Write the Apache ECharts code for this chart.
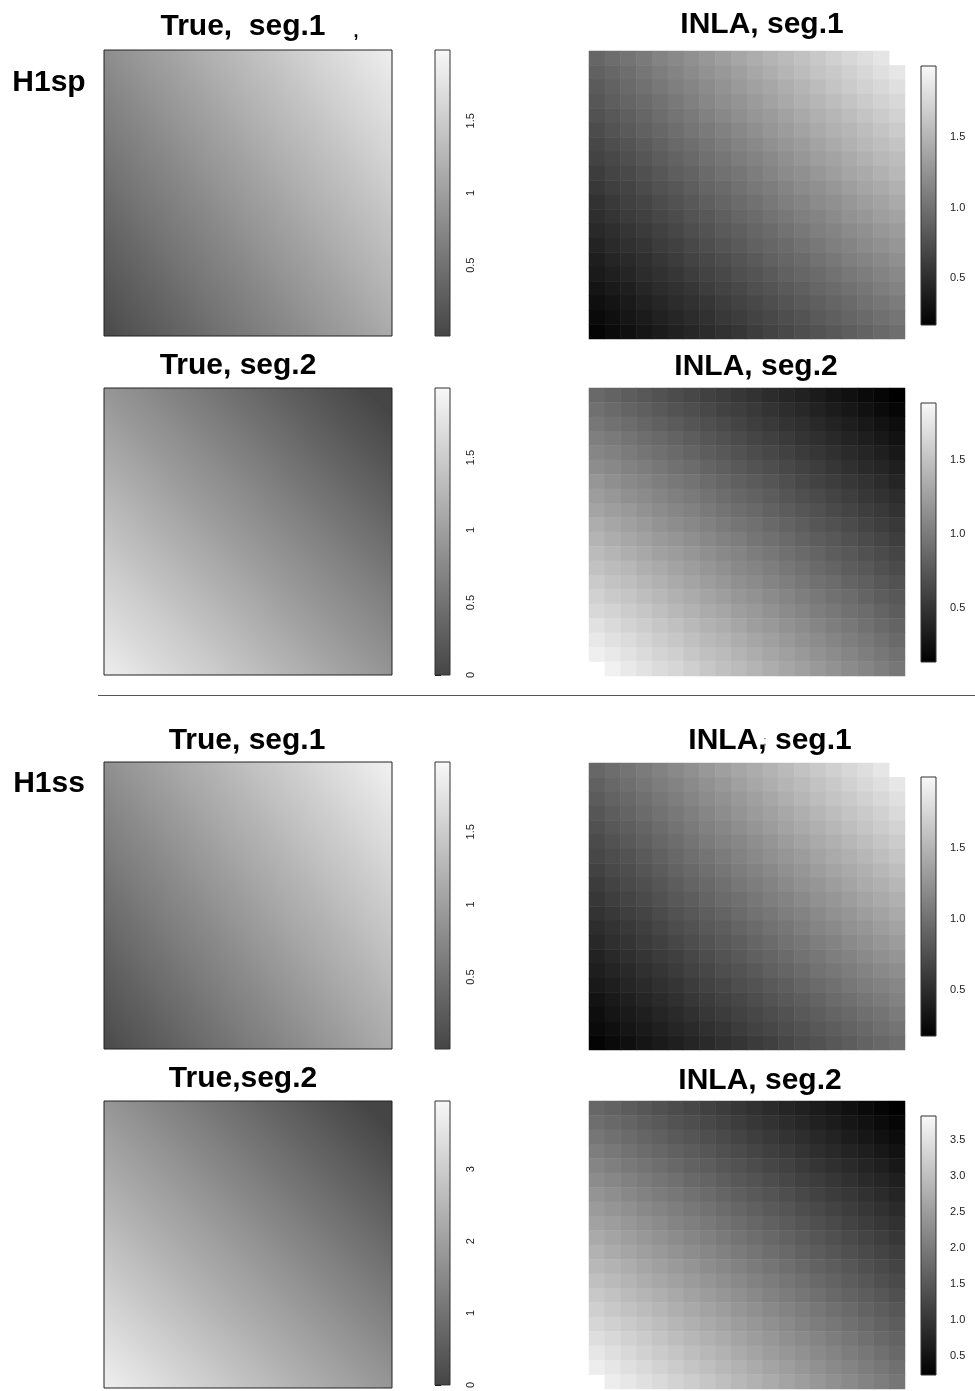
<!DOCTYPE html>
<html><head><meta charset="utf-8">
<script src="https://cdn.jsdelivr.net/npm/echarts@6/dist/echarts.min.js"></script>
<style>html,body{margin:0;padding:0;background:#fff}#c{width:975px;height:1391px}</style>
</head><body><div id="c"></div>
<script>
// ---------------- DATA ----------------
const rowLabels = ['H1sp', 'H1ss'];
const trueTitles = ['True,  seg.1', 'True, seg.2', 'True, seg.1', 'True,seg.2'];
const inlaTitles = ['INLA, seg.1', 'INLA, seg.2', 'INLA, seg.1', 'INLA, seg.2'];

// true surfaces: corner values [bottom-left, bottom-right, top-left, top-right]
const trueH1spSeg1 = [0.09, 1.10, 0.78, 1.92];
const trueH1spSeg2 = [1.97, 0.78, 0.80, 0.01];
const trueH1ssSeg1 = [0.08, 1.10, 0.80, 1.93];
const trueH1ssSeg2 = [3.95, 1.58, 1.58, 0.00];

// colour-bar ranges and ticks
const trueRanges = [[0.01, 1.99], [0, 1.98], [0.005, 1.98], [0, 3.95]];
const trueTicks = [[0.5, 1, 1.5], [0, 0.5, 1, 1.5], [0.5, 1, 1.5], [0, 1, 2, 3]];
const inlaRanges = [[0.17, 2.0], [0.13, 1.89], [0.18, 2.0], [0.24, 3.83]];
const inlaTicks = [[0.5, 1, 1.5], [0.5, 1, 1.5], [0.5, 1, 1.5], [0.5, 1, 1.5, 2, 2.5, 3, 3.5]];

// INLA posterior mean grids (20 x 20), rows listed top to bottom, null = no estimate
const inlaH1spSeg1 = [
[0.92,0.97,1.02,1.07,1.13,1.18,1.23,1.28,1.33,1.39,1.44,1.49,1.54,1.59,1.64,1.70,1.75,1.80,1.85,null],
[0.88,0.93,0.98,1.04,1.09,1.14,1.19,1.24,1.29,1.34,1.40,1.45,1.50,1.55,1.60,1.65,1.70,1.75,1.81,1.86],
[0.84,0.89,0.95,1.00,1.05,1.10,1.15,1.20,1.25,1.30,1.35,1.40,1.45,1.50,1.55,1.61,1.66,1.71,1.76,1.81],
[0.81,0.86,0.91,0.96,1.01,1.06,1.11,1.16,1.21,1.26,1.31,1.36,1.41,1.46,1.51,1.56,1.61,1.66,1.71,1.76],
[0.77,0.82,0.87,0.92,0.97,1.02,1.07,1.12,1.17,1.22,1.27,1.31,1.36,1.41,1.46,1.51,1.56,1.61,1.66,1.71],
[0.73,0.78,0.83,0.88,0.93,0.98,1.03,1.07,1.12,1.17,1.22,1.27,1.32,1.37,1.42,1.47,1.51,1.56,1.61,1.66],
[0.69,0.74,0.79,0.84,0.89,0.94,0.98,1.03,1.08,1.13,1.18,1.23,1.27,1.32,1.37,1.42,1.47,1.52,1.57,1.61],
[0.66,0.70,0.75,0.80,0.85,0.90,0.94,0.99,1.04,1.09,1.13,1.18,1.23,1.28,1.33,1.37,1.42,1.47,1.52,1.56],
[0.62,0.67,0.71,0.76,0.81,0.86,0.90,0.95,1.00,1.04,1.09,1.14,1.19,1.23,1.28,1.33,1.38,1.42,1.47,1.52],
[0.58,0.63,0.67,0.72,0.77,0.81,0.86,0.91,0.95,1.00,1.05,1.09,1.14,1.19,1.23,1.28,1.33,1.38,1.42,1.47],
[0.54,0.59,0.64,0.68,0.73,0.77,0.82,0.87,0.91,0.96,1.00,1.05,1.10,1.14,1.19,1.23,1.28,1.33,1.37,1.42],
[0.51,0.55,0.60,0.64,0.69,0.73,0.78,0.82,0.87,0.92,0.96,1.01,1.05,1.10,1.14,1.19,1.24,1.28,1.33,1.37],
[0.47,0.51,0.56,0.60,0.65,0.69,0.74,0.78,0.83,0.87,0.92,0.96,1.01,1.05,1.10,1.14,1.19,1.23,1.28,1.32],
[0.43,0.48,0.52,0.56,0.61,0.65,0.70,0.74,0.79,0.83,0.88,0.92,0.96,1.01,1.05,1.10,1.14,1.19,1.23,1.27],
[0.39,0.44,0.48,0.52,0.57,0.61,0.66,0.70,0.74,0.79,0.83,0.88,0.92,0.96,1.01,1.05,1.10,1.14,1.18,1.23],
[0.36,0.40,0.44,0.49,0.53,0.57,0.62,0.66,0.70,0.75,0.79,0.83,0.88,0.92,0.96,1.01,1.05,1.09,1.13,1.18],
[0.32,0.36,0.40,0.45,0.49,0.53,0.57,0.62,0.66,0.70,0.75,0.79,0.83,0.87,0.92,0.96,1.00,1.04,1.09,1.13],
[0.28,0.32,0.36,0.41,0.45,0.49,0.53,0.57,0.62,0.66,0.70,0.74,0.79,0.83,0.87,0.91,0.95,1.00,1.04,1.08],
[0.24,0.28,0.33,0.37,0.41,0.45,0.49,0.53,0.58,0.62,0.66,0.70,0.74,0.78,0.83,0.87,0.91,0.95,0.99,1.03],
[0.21,0.25,0.29,0.33,0.37,0.41,0.45,0.49,0.53,0.57,0.62,0.66,0.70,0.74,0.78,0.82,0.86,0.90,0.94,0.98]
];
const inlaH1spSeg2 = [
[0.87,0.83,0.79,0.75,0.71,0.67,0.63,0.59,0.56,0.52,0.48,0.44,0.40,0.36,0.32,0.28,0.24,0.20,0.17,0.13],
[0.92,0.88,0.84,0.80,0.76,0.72,0.68,0.64,0.60,0.57,0.53,0.49,0.45,0.41,0.37,0.33,0.29,0.25,0.21,0.17],
[0.97,0.93,0.89,0.85,0.81,0.77,0.73,0.69,0.65,0.61,0.57,0.53,0.49,0.46,0.42,0.38,0.34,0.30,0.26,0.22],
[1.03,0.99,0.95,0.91,0.87,0.83,0.79,0.74,0.70,0.66,0.62,0.58,0.54,0.50,0.46,0.42,0.38,0.34,0.30,0.26],
[1.08,1.04,1.00,0.96,0.92,0.88,0.84,0.79,0.75,0.71,0.67,0.63,0.59,0.55,0.51,0.47,0.43,0.39,0.35,0.30],
[1.13,1.09,1.05,1.01,0.97,0.93,0.89,0.84,0.80,0.76,0.72,0.68,0.64,0.60,0.56,0.51,0.47,0.43,0.39,0.35],
[1.19,1.14,1.10,1.06,1.02,0.98,0.94,0.89,0.85,0.81,0.77,0.73,0.69,0.64,0.60,0.56,0.52,0.48,0.44,0.39],
[1.24,1.20,1.15,1.11,1.07,1.03,0.99,0.94,0.90,0.86,0.82,0.78,0.73,0.69,0.65,0.61,0.57,0.52,0.48,0.44],
[1.29,1.25,1.21,1.16,1.12,1.08,1.04,0.99,0.95,0.91,0.87,0.82,0.78,0.74,0.70,0.65,0.61,0.57,0.53,0.48],
[1.35,1.30,1.26,1.22,1.17,1.13,1.09,1.04,1.00,0.96,0.92,0.87,0.83,0.79,0.74,0.70,0.66,0.61,0.57,0.53],
[1.40,1.35,1.31,1.27,1.22,1.18,1.14,1.09,1.05,1.01,0.96,0.92,0.88,0.83,0.79,0.75,0.70,0.66,0.62,0.57],
[1.45,1.41,1.36,1.32,1.27,1.23,1.19,1.14,1.10,1.06,1.01,0.97,0.92,0.88,0.84,0.79,0.75,0.70,0.66,0.62],
[1.50,1.46,1.42,1.37,1.33,1.28,1.24,1.19,1.15,1.10,1.06,1.02,0.97,0.93,0.88,0.84,0.79,0.75,0.70,0.66],
[1.56,1.51,1.47,1.42,1.38,1.33,1.29,1.24,1.20,1.15,1.11,1.06,1.02,0.97,0.93,0.89,0.84,0.80,0.75,0.71],
[1.61,1.56,1.52,1.47,1.43,1.38,1.34,1.29,1.25,1.20,1.16,1.11,1.07,1.02,0.98,0.93,0.89,0.84,0.79,0.75],
[1.66,1.62,1.57,1.53,1.48,1.43,1.39,1.34,1.30,1.25,1.21,1.16,1.11,1.07,1.02,0.98,0.93,0.89,0.84,0.79],
[1.72,1.67,1.62,1.58,1.53,1.49,1.44,1.39,1.35,1.30,1.25,1.21,1.16,1.12,1.07,1.02,0.98,0.93,0.88,0.84],
[1.77,1.72,1.68,1.63,1.58,1.54,1.49,1.44,1.40,1.35,1.30,1.26,1.21,1.16,1.12,1.07,1.02,0.98,0.93,0.88],
[1.82,1.78,1.73,1.68,1.63,1.59,1.54,1.49,1.45,1.40,1.35,1.30,1.26,1.21,1.16,1.12,1.07,1.02,0.97,0.93],
[null,1.83,1.78,1.73,1.68,1.64,1.59,1.54,1.49,1.45,1.40,1.35,1.30,1.26,1.21,1.16,1.11,1.07,1.02,0.97]
];
const inlaH1ssSeg1 = [
[0.93,0.98,1.03,1.08,1.13,1.18,1.23,1.29,1.34,1.39,1.44,1.49,1.54,1.60,1.65,1.70,1.75,1.80,1.86,null],
[0.89,0.94,0.99,1.04,1.09,1.14,1.19,1.24,1.29,1.35,1.40,1.45,1.50,1.55,1.60,1.65,1.71,1.76,1.81,1.87],
[0.85,0.90,0.95,1.00,1.05,1.10,1.15,1.20,1.25,1.30,1.35,1.40,1.46,1.51,1.56,1.61,1.66,1.71,1.76,1.82],
[0.81,0.86,0.91,0.96,1.01,1.06,1.11,1.16,1.21,1.26,1.31,1.36,1.41,1.46,1.51,1.56,1.61,1.66,1.71,1.77],
[0.77,0.82,0.87,0.92,0.97,1.02,1.07,1.12,1.17,1.22,1.27,1.32,1.37,1.42,1.47,1.52,1.57,1.62,1.67,1.72],
[0.73,0.78,0.83,0.88,0.93,0.98,1.03,1.08,1.13,1.17,1.22,1.27,1.32,1.37,1.42,1.47,1.52,1.57,1.62,1.67],
[0.70,0.74,0.79,0.84,0.89,0.94,0.99,1.03,1.08,1.13,1.18,1.23,1.28,1.32,1.37,1.42,1.47,1.52,1.57,1.62],
[0.66,0.71,0.75,0.80,0.85,0.90,0.95,0.99,1.04,1.09,1.14,1.18,1.23,1.28,1.33,1.38,1.42,1.47,1.52,1.57],
[0.62,0.67,0.72,0.76,0.81,0.86,0.91,0.95,1.00,1.05,1.09,1.14,1.19,1.24,1.28,1.33,1.38,1.43,1.47,1.52],
[0.58,0.63,0.68,0.72,0.77,0.82,0.86,0.91,0.96,1.00,1.05,1.10,1.14,1.19,1.24,1.28,1.33,1.38,1.42,1.47],
[0.55,0.59,0.64,0.68,0.73,0.78,0.82,0.87,0.91,0.96,1.01,1.05,1.10,1.14,1.19,1.24,1.28,1.33,1.37,1.42],
[0.51,0.55,0.60,0.64,0.69,0.74,0.78,0.83,0.87,0.92,0.96,1.01,1.05,1.10,1.15,1.19,1.24,1.28,1.33,1.37],
[0.47,0.52,0.56,0.61,0.65,0.70,0.74,0.79,0.83,0.87,0.92,0.96,1.01,1.05,1.10,1.14,1.19,1.23,1.28,1.32],
[0.43,0.48,0.52,0.57,0.61,0.65,0.70,0.74,0.79,0.83,0.88,0.92,0.96,1.01,1.05,1.10,1.14,1.19,1.23,1.27],
[0.40,0.44,0.48,0.53,0.57,0.61,0.66,0.70,0.75,0.79,0.83,0.88,0.92,0.96,1.01,1.05,1.09,1.14,1.18,1.22],
[0.36,0.40,0.45,0.49,0.53,0.57,0.62,0.66,0.70,0.75,0.79,0.83,0.87,0.92,0.96,1.00,1.05,1.09,1.13,1.17],
[0.32,0.36,0.41,0.45,0.49,0.53,0.58,0.62,0.66,0.70,0.74,0.79,0.83,0.87,0.91,0.96,1.00,1.04,1.08,1.13],
[0.28,0.33,0.37,0.41,0.45,0.49,0.53,0.58,0.62,0.66,0.70,0.74,0.78,0.83,0.87,0.91,0.95,0.99,1.03,1.08],
[0.25,0.29,0.33,0.37,0.41,0.45,0.49,0.53,0.57,0.62,0.66,0.70,0.74,0.78,0.82,0.86,0.90,0.94,0.99,1.03],
[0.21,0.25,0.29,0.33,0.37,0.41,0.45,0.49,0.53,0.57,0.61,0.65,0.70,0.74,0.78,0.82,0.86,0.90,0.94,0.98]
];
const inlaH1ssSeg2 = [
[1.73,1.65,1.57,1.49,1.41,1.33,1.26,1.18,1.10,1.02,0.94,0.86,0.78,0.71,0.63,0.55,0.47,0.39,0.31,0.23],
[1.83,1.75,1.68,1.60,1.52,1.44,1.36,1.28,1.20,1.12,1.04,0.96,0.88,0.80,0.72,0.64,0.56,0.48,0.40,0.32],
[1.94,1.86,1.78,1.70,1.62,1.54,1.46,1.38,1.30,1.22,1.14,1.06,0.98,0.90,0.82,0.74,0.65,0.57,0.49,0.41],
[2.05,1.97,1.89,1.80,1.72,1.64,1.56,1.48,1.40,1.32,1.24,1.15,1.07,0.99,0.91,0.83,0.75,0.67,0.59,0.50],
[2.16,2.07,1.99,1.91,1.83,1.74,1.66,1.58,1.50,1.42,1.33,1.25,1.17,1.09,1.00,0.92,0.84,0.76,0.68,0.59],
[2.26,2.18,2.10,2.01,1.93,1.85,1.76,1.68,1.60,1.51,1.43,1.35,1.26,1.18,1.10,1.02,0.93,0.85,0.77,0.68],
[2.37,2.29,2.20,2.12,2.03,1.95,1.87,1.78,1.70,1.61,1.53,1.45,1.36,1.28,1.19,1.11,1.03,0.94,0.86,0.77],
[2.48,2.39,2.31,2.22,2.14,2.05,1.97,1.88,1.80,1.71,1.63,1.54,1.46,1.37,1.29,1.20,1.12,1.03,0.95,0.86],
[2.58,2.50,2.41,2.33,2.24,2.15,2.07,1.98,1.90,1.81,1.73,1.64,1.55,1.47,1.38,1.30,1.21,1.12,1.04,0.95],
[2.69,2.60,2.52,2.43,2.34,2.26,2.17,2.08,2.00,1.91,1.82,1.74,1.65,1.56,1.48,1.39,1.30,1.22,1.13,1.04],
[2.80,2.71,2.62,2.53,2.45,2.36,2.27,2.18,2.10,2.01,1.92,1.83,1.75,1.66,1.57,1.48,1.40,1.31,1.22,1.13],
[2.90,2.82,2.73,2.64,2.55,2.46,2.37,2.28,2.20,2.11,2.02,1.93,1.84,1.75,1.66,1.58,1.49,1.40,1.31,1.22],
[3.01,2.92,2.83,2.74,2.65,2.56,2.47,2.39,2.30,2.21,2.12,2.03,1.94,1.85,1.76,1.67,1.58,1.49,1.40,1.31],
[3.12,3.03,2.94,2.85,2.76,2.67,2.58,2.49,2.40,2.31,2.22,2.12,2.03,1.94,1.85,1.76,1.67,1.58,1.49,1.40],
[3.23,3.13,3.04,2.95,2.86,2.77,2.68,2.59,2.50,2.40,2.31,2.22,2.13,2.04,1.95,1.86,1.77,1.67,1.58,1.49],
[3.33,3.24,3.15,3.06,2.96,2.87,2.78,2.69,2.60,2.50,2.41,2.32,2.23,2.13,2.04,1.95,1.86,1.77,1.67,1.58],
[3.44,3.35,3.25,3.16,3.07,2.97,2.88,2.79,2.70,2.60,2.51,2.42,2.32,2.23,2.14,2.04,1.95,1.86,1.76,1.67],
[3.55,3.45,3.36,3.26,3.17,3.08,2.98,2.89,2.80,2.70,2.61,2.51,2.42,2.33,2.23,2.14,2.04,1.95,1.86,1.76],
[3.65,3.56,3.46,3.37,3.27,3.18,3.08,2.99,2.89,2.80,2.70,2.61,2.52,2.42,2.33,2.23,2.14,2.04,1.95,1.85],
[null,3.66,3.57,3.47,3.38,3.28,3.19,3.09,2.99,2.90,2.80,2.71,2.61,2.52,2.42,2.32,2.23,2.13,2.04,1.94]
];

// ---------------- LAYOUT / STYLE ----------------
const trueSurfaces = [trueH1spSeg1, trueH1spSeg2, trueH1ssSeg1, trueH1ssSeg2];
const inlaGrids = [inlaH1spSeg1, inlaH1spSeg2, inlaH1ssSeg1, inlaH1ssSeg2];
const TRUE_COLORS = ['#454545', '#f8f8f8'];
const INLA_COLORS = ['#000000', '#f9f9f9'];
const FONT = '"Liberation Sans", Arial, Helvetica, sans-serif';

const trueBox = [[104, 50, 288, 286], [104, 388, 288, 287], [104, 762, 288, 287], [104, 1101, 288, 287]];
const inlaBox = [[589, 51, 316, 288], [589, 388, 316, 288], [589, 763, 316, 287], [589, 1101, 316, 288]];
const inlaBarBox = [[921, 66, 15, 259], [921, 403, 15, 259], [921, 777, 15, 259], [921, 1116, 15, 259]];
const titleY = [[27, 25], [366, 367], [741, 741], [1079, 1081]];
const titleX = [[243, 762], [238, 756], [247, 770], [243, 760]];

function hex2rgb(h) { return [1, 3, 5].map(i => parseInt(h.substr(i, 2), 16)); }
function greyOf(v, range, colors) {
  let t = (v - range[0]) / (range[1] - range[0]);
  t = Math.max(0, Math.min(1, t));
  const a = hex2rgb(colors[0]), b = hex2rgb(colors[1]);
  const c = a.map((x, i) => Math.round(x + (b[i] - x) * t));
  return 'rgb(' + c.join(',') + ')';
}

const grids = [], xAxes = [], yAxes = [], series = [], visualMaps = [];
const cats = Array.from({ length: 20 }, (_, i) => String(i));

function addGrid(box) {
  grids.push({ left: box[0], top: box[1], width: box[2], height: box[3] });
  return grids.length - 1;
}

function barAxis(gi, range, ticks, rotated, fmt) {
  xAxes.push({ gridIndex: gi, type: 'value', min: 0, max: 1, show: false });
  yAxes.push({
    gridIndex: gi, type: 'value', min: range[0], max: range[1], position: 'right',
    axisLine: { show: false }, splitLine: { show: false },
    axisTick: { show: true, inside: false, length: 6, customValues: ticks, lineStyle: { color: '#111', width: 1 } },
    axisLabel: {
      show: true, customValues: ticks, rotate: rotated ? 90 : 0, margin: rotated ? 15 : 14,
      fontFamily: FONT, fontSize: rotated ? 11 : 11, color: '#222',
      formatter: fmt
    }
  });
}

function barSeries(gi, range, colors) {
  series.push({
    type: 'custom', xAxisIndex: gi, yAxisIndex: gi, silent: true,
    data: [[range[0], range[1]]],
    renderItem: function (params, api) {
      const lo = api.value(0), hi = api.value(1);
      const pTop = api.coord([0, hi]), pBot = api.coord([1, lo]);
      return {
        type: 'rect',
        shape: { x: pTop[0], y: pTop[1], width: pBot[0] - pTop[0], height: pBot[1] - pTop[1] },
        style: {
          fill: { type: 'linear', x: 0, y: 0, x2: 0, y2: 1,
            colorStops: [{ offset: 0, color: colors[1] }, { offset: 1, color: colors[0] }] },
          stroke: '#333', lineWidth: 1
        }
      };
    }
  });
}

for (let r = 0; r < 4; r++) {
  // ---- true surface ----
  const range = trueRanges[r];
  let gi = addGrid(trueBox[r]);
  xAxes.push({ gridIndex: gi, type: 'value', min: 0, max: 1, show: false });
  yAxes.push({ gridIndex: gi, type: 'value', min: 0, max: 1, show: false });
  series.push({
    type: 'custom', xAxisIndex: gi, yAxisIndex: gi, silent: true,
    dimensions: ['bl', 'br', 'tl', 'tr'],
    data: [trueSurfaces[r]],
    renderItem: (function (range) {
      return function (params, api) {
        const bl = api.value(0), br = api.value(1), tl = api.value(2), tr = api.value(3);
        const p0 = api.coord([0, 0]), p1 = api.coord([1, 1]);
        const x0 = p0[0], yb = p0[1], x1 = p1[0], yt = p1[1];
        const W = x1 - x0, H = yb - yt;
        const b = ((br - bl) + (tr - tl)) / 2, c = ((tl - bl) + (tr - br)) / 2, m = (bl + br + tl + tr) / 4;
        const gx = b / W, gy = -c / H, gl = Math.hypot(gx, gy);
        const ux = gx / gl, uy = gy / gl;
        const ext = (Math.abs(gx) * W / 2 + Math.abs(gy) * H / 2) / gl;
        const cx = x0 + W / 2, cy = yt + H / 2;
        const half = (Math.abs(b) + Math.abs(c)) / 2;
        const stops = [];
        for (let k = 0; k <= 20; k++) {
          const t = k / 20;
          stops.push({ offset: t, color: greyOf(m - half + 2 * half * t, range, TRUE_COLORS) });
        }
        return {
          type: 'rect',
          shape: { x: x0, y: yt, width: W, height: H },
          style: {
            fill: { type: 'linear', global: true, x: cx - ux * ext, y: cy - uy * ext, x2: cx + ux * ext, y2: cy + uy * ext, colorStops: stops },
            stroke: '#222', lineWidth: 1
          }
        };
      };
    })(range)
  });

  // ---- true colour bar ----
  const tb = trueBox[r];
  gi = addGrid([435, tb[1], 15, tb[3]]);
  barAxis(gi, range, trueTicks[r], true, v => String(v));
  barSeries(gi, range, TRUE_COLORS);

  // ---- INLA heatmap ----
  gi = addGrid(inlaBox[r]);
  xAxes.push({ gridIndex: gi, type: 'category', data: cats, show: false, boundaryGap: true });
  yAxes.push({ gridIndex: gi, type: 'category', data: cats, show: false, boundaryGap: true });
  const cells = [];
  inlaGrids[r].forEach((row, ri) => row.forEach((v, ci) => { if (v !== null) cells.push([ci, 19 - ri, v]); }));
  series.push({
    type: 'heatmap', xAxisIndex: gi, yAxisIndex: gi, data: cells, silent: true,
    itemStyle: { borderWidth: 0 }, emphasis: { disabled: true }
  });
  visualMaps.push({
    type: 'continuous', show: false, seriesIndex: series.length - 1, dimension: 2,
    min: inlaRanges[r][0], max: inlaRanges[r][1], inRange: { color: INLA_COLORS }
  });

  // ---- INLA colour bar ----
  gi = addGrid(inlaBarBox[r]);
  barAxis(gi, inlaRanges[r], inlaTicks[r], false, v => v.toFixed(1));
  barSeries(gi, inlaRanges[r], INLA_COLORS);
}

// titles and labels
const graphics = [];
const titleFont = 'bold 30px ' + FONT;
for (let r = 0; r < 4; r++) {
  graphics.push({ type: 'text', x: titleX[r][0], y: titleY[r][0], style: { text: trueTitles[r], font: titleFont, fill: '#000', align: 'center', verticalAlign: 'middle' } });
  graphics.push({ type: 'text', x: titleX[r][1], y: titleY[r][1], style: { text: inlaTitles[r], font: titleFont, fill: '#000', align: 'center', verticalAlign: 'middle' } });
}
graphics.push({ type: 'text', x: 49, y: 83, style: { text: rowLabels[0], font: titleFont, fill: '#000', align: 'center', verticalAlign: 'middle' } });
graphics.push({ type: 'text', x: 49, y: 784, style: { text: rowLabels[1], font: titleFont, fill: '#000', align: 'center', verticalAlign: 'middle' } });
// stray marks in the original figure
graphics.push({ type: 'text', x: 356, y: 32, style: { text: ',', font: 'bold 18px ' + FONT, fill: '#000', align: 'center', verticalAlign: 'middle' } });
graphics.push({ type: 'text', x: 765, y: 742, style: { text: ';', font: '12px ' + FONT, fill: '#666', align: 'center', verticalAlign: 'middle' } });
// separator line
graphics.push({ type: 'line', shape: { x1: 98, y1: 695.5, x2: 975, y2: 695.5 }, style: { stroke: '#555', lineWidth: 1.2 } });

const chart = echarts.init(document.getElementById('c'), null, { renderer: 'canvas' });
chart.setOption({
  animation: false,
  backgroundColor: '#fff',
  grid: grids, xAxis: xAxes, yAxis: yAxes,
  visualMap: visualMaps,
  series: series,
  graphic: graphics
});
</script>
</body></html>
